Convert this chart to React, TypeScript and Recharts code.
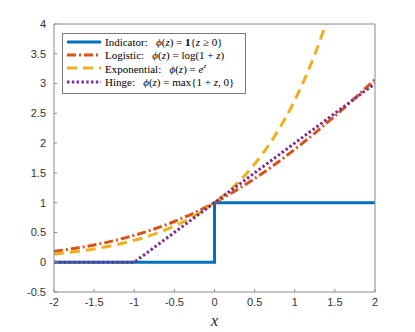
import React from "react";
import { Legend, Line, LineChart, XAxis, YAxis } from "recharts";

// sample points along z
const zValues = [-2, -1.75, -1.5, -1.25, -1, -0.75, -0.5, -0.25, 0, 0.25, 0.5, 0.75, 1, 1.25, 1.5, 1.75, 2];
const logisticValues = [0.183, 0.231, 0.29, 0.363, 0.452, 0.558, 0.684, 0.831, 1, 1.192, 1.405, 1.64, 1.895, 2.167, 2.455, 2.756, 3.069];
const exponentialValues = [0.135, 0.174, 0.223, 0.287, 0.368, 0.472, 0.607, 0.779, 1, 1.284, 1.649, 2.117, 2.718, 3.49, 4.482, 5.755, 7.389];
const hingeZ = [-2, -1, 2];
const hingeValues = [0, 0, 3];
const indicatorZ = [-2, 0, 0, 2];
const indicatorValues = [0, 0, 1, 1];

const xTicks = [-2, -1.5, -1, -0.5, 0, 0.5, 1, 1.5, 2];
const yTicks = [-0.5, 0, 0.5, 1, 1.5, 2, 2.5, 3, 3.5, 4];

const zip = (zs: number[], ys: number[]) => zs.map((z, i) => ({ z, y: ys[i] }));

const series = [
  { name: "indicator", data: zip(indicatorZ, indicatorValues), color: "#0072BD", dash: undefined, type: "linear" },
  { name: "logistic", data: zip(zValues, logisticValues), color: "#D95319", dash: "9 3 2 3", type: "monotone" },
  { name: "exponential", data: zip(zValues, exponentialValues), color: "#EDB120", dash: "10 6", type: "monotone" },
  { name: "hinge", data: zip(hingeZ, hingeValues), color: "#7E2F8E", dash: "2.5 2.3", type: "linear" },
];

const AXIS = "#8a8a8a";
const TICK = { fontSize: 11, fill: "#333", fontFamily: "'Liberation Sans', Arial, sans-serif" };
const SERIF = "'Liberation Serif', 'Times New Roman', serif";

const I = ({ children }: { children: React.ReactNode }) => <span style={{ fontStyle: "italic" }}>{children}</span>;

const legendTexts: React.ReactNode[] = [
  <>Indicator:&nbsp;&nbsp; <I>ϕ</I>(<I>z</I>) = <b>1</b>{"{"}<I>z</I> ≥ 0{"}"}</>,
  <>Logistic:&nbsp;&nbsp; <I>ϕ</I>(<I>z</I>) = log(1 + <I>z</I>)</>,
  <>Exponential:&nbsp;&nbsp; <I>ϕ</I>(<I>z</I>) = <I>e</I><sup style={{ fontSize: 7 }}><I>z</I></sup></>,
  <>Hinge:&nbsp;&nbsp; <I>ϕ</I>(<I>z</I>) = max{"{"}1 + <I>z</I>, 0{"}"}</>,
];

function LegendBox() {
  return (
    <div
      style={{
        background: "#fff",
        border: "1px solid #7a7a7a",
        width: 182,
        height: 59,
        fontFamily: SERIF,
        fontSize: 11,
        color: "#000",
        boxSizing: "content-box",
      }}
    >
      {series.map((s, i) => (
        <div key={s.name} style={{ display: "flex", alignItems: "center", height: 13.3, marginTop: i === 0 ? 1 : 0, whiteSpace: "nowrap", fontFamily: SERIF }}>
          <svg width={42} height={8} style={{ flex: "none" }}>
            <line x1={4} x2={38} y1={4} y2={4} stroke={s.color} strokeWidth={3} strokeDasharray={s.dash} />
          </svg>
          <span>{legendTexts[i]}</span>
        </div>
      ))}
    </div>
  );
}

export default function App() {
  return (
    <LineChart width={399} height={324} margin={{ top: 15, right: 31, bottom: 0, left: 6 }}>
      <XAxis
        dataKey="z"
        type="number"
        domain={[-2, 2]}
        ticks={xTicks}
        allowDataOverflow
        height={40}
        stroke={AXIS}
        tick={TICK}
        tickSize={-3}
        tickMargin={9}
        label={{ value: "x", position: "insideBottom", offset: 6, style: { fontFamily: SERIF, fontStyle: "italic", fontSize: 16, fill: "#222" } }}
      />
      <XAxis xAxisId="top" orientation="top" dataKey="z" type="number" domain={[-2, 2]} ticks={xTicks} allowDataOverflow height={1} stroke={AXIS} tick={false} tickSize={-3} />
      <YAxis
        dataKey="y"
        type="number"
        domain={[-0.5, 4]}
        ticks={yTicks}
        allowDataOverflow
        width={40}
        stroke={AXIS}
        tick={TICK}
        tickSize={-3}
        tickMargin={11}
      />
      <YAxis yAxisId="right" orientation="right" dataKey="y" type="number" domain={[-0.5, 4]} ticks={yTicks} allowDataOverflow width={1} stroke={AXIS} tick={false} tickSize={-3} />
      <Legend
        layout="vertical"
        align="center"
        verticalAlign="middle"
        content={() => <LegendBox />}
        wrapperStyle={{ left: 54, top: 25, width: "auto" }}
      />
      {series.map((s) => (
        <Line
          key={s.name}
          data={s.data}
          dataKey="y"
          type={s.type as "linear" | "monotone"}
          stroke={s.color}
          strokeWidth={3}
          strokeDasharray={s.dash}
          dot={false}
          isAnimationActive={false}
        />
      ))}
    </LineChart>
  );
}
